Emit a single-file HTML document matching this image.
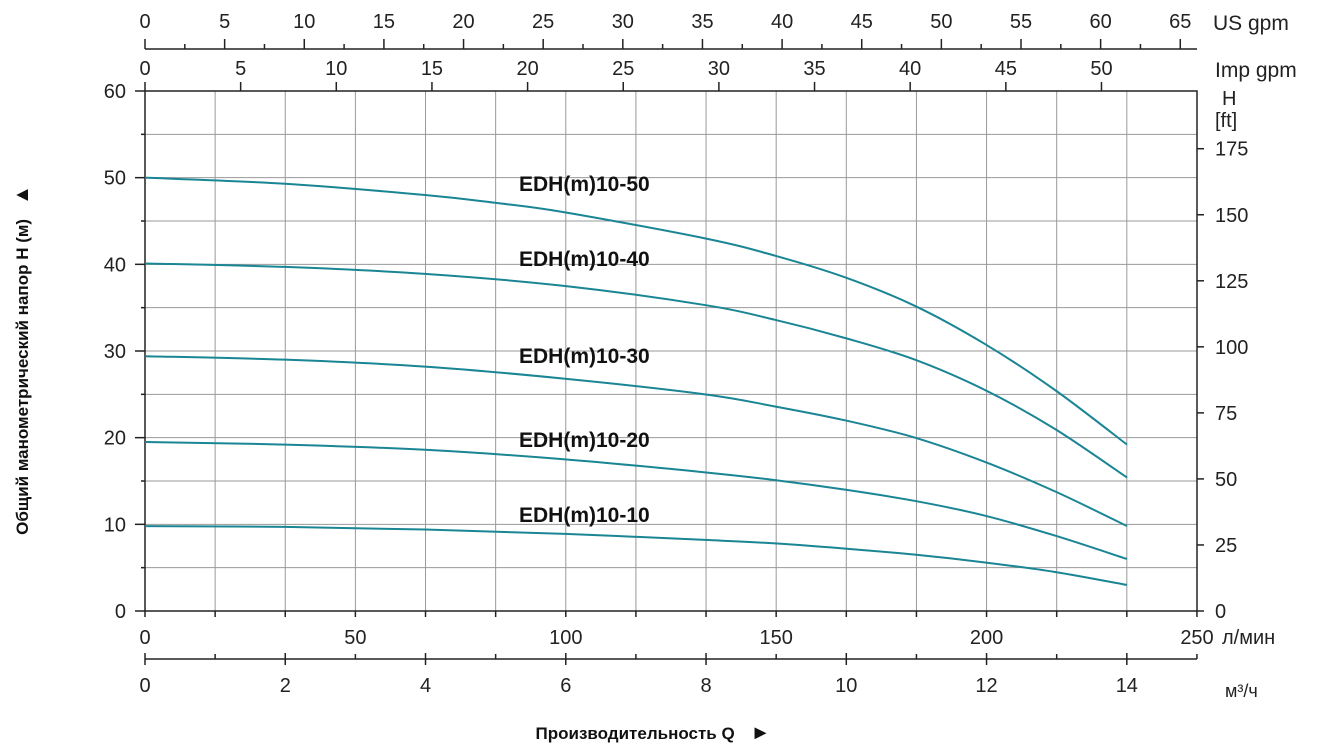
<!DOCTYPE html>
<html><head><meta charset="utf-8"><style>
html,body{margin:0;padding:0;background:#fff}
svg{display:block;font-family:"Liberation Sans",Arial,sans-serif}
</style></head><body>
<svg id="s" width="1330" height="755" viewBox="0 0 1330 755" xmlns="http://www.w3.org/2000/svg"></svg>
<script>
const s=document.getElementById('s');let h='';
const X0=145,X1=1197,Y0=611,Y60=91,py=(Y0-Y60)/60;
const Y=m=>Y0-m*py;
for(let i=1;i<=15;i++){let x=X0+i*70.13;if(x>1196)break;h+=`<line x1="${x}" y1="${Y60}" x2="${x}" y2="${Y0}" stroke="#999" stroke-width="1"/>`;}
for(let m=5;m<=60;m+=5){h+=`<line x1="${X0}" y1="${Y(m)}" x2="${X1}" y2="${Y(m)}" stroke="#999" stroke-width="1"/>`;
 h+=`<line x1="${X0-(m%10?4:10)}" y1="${Y(m)}" x2="${X0}" y2="${Y(m)}" stroke="#222" stroke-width="1.5"/>`;}
h+=`<line x1="${X0-10}" y1="${Y0}" x2="${X0}" y2="${Y0}" stroke="#222" stroke-width="1.5"/>`;
h+=`<rect x="${X0}" y="${Y60}" width="${X1-X0}" height="${Y0-Y60}" fill="none" stroke="#222" stroke-width="1.5"/>`;
for(let m=0;m<=60;m+=10)h+=`<text x="126" y="${Y(m)+7}" font-size="20" text-anchor="end" fill="#222">${m}</text>`;
for(let f=0;f<=175;f+=25){let y=Y(f*0.3048);h+=`<line x1="${X1}" y1="${y}" x2="${X1+7}" y2="${y}" stroke="#222" stroke-width="1.5"/><text x="1215" y="${y+7}" font-size="20" fill="#222">${f}</text>`;}
h+=`<text x="1222" y="105" font-size="20" fill="#222">H</text><text x="1215" y="127" font-size="20" fill="#222">[ft]</text>`;
const pl=(X1-X0)/250;
for(let i=0;i<=15;i++){let x=X0+i*70.13;if(x>1197)break;h+=`<line x1="${x}" y1="${Y0}" x2="${x}" y2="${Y0+6}" stroke="#222" stroke-width="1.5"/>`;}
for(let q=0;q<=250;q+=50){let x=X0+q*pl;h+=`<text x="${x}" y="644" font-size="20" text-anchor="middle" fill="#222">${q}</text>`;}
h+=`<text x="1222" y="644" font-size="20" fill="#222">л/мин</text>`;
h+=`<line x1="${X0}" y1="659" x2="${X1}" y2="659" stroke="#222" stroke-width="1.5"/>`;
for(let i=0;i<=15;i++){let x=X0+i*70.13;if(x>1197)break;h+=`<line x1="${x}" y1="${i%2?654:653}" x2="${x}" y2="${i%2?659:665}" stroke="#222" stroke-width="1.5"/>`;if(i%2==0)h+=`<text x="${x}" y="692" font-size="20" text-anchor="middle" fill="#222">${i}</text>`;}
h+=`<text x="1225" y="697" font-size="18" fill="#222">м³/ч</text>`;
h+=`<line x1="${X0}" y1="49" x2="${X1}" y2="49" stroke="#222" stroke-width="1.5"/>`;
const us=pl*3.785;
for(let g=0;g<=65;g+=2.5){let x=X0+g*us;h+=`<line x1="${x}" y1="49" x2="${x}" y2="${g%5?44:39}" stroke="#222" stroke-width="1.5"/>`;if(g%5==0)h+=`<text x="${x}" y="28" font-size="20" text-anchor="middle" fill="#222">${g}</text>`;}
h+=`<text x="1213" y="30" font-size="21" fill="#222">US gpm</text>`;
const ig=pl*4.546;
for(let g=0;g<=50;g+=5){let x=X0+g*ig;h+=`<line x1="${x}" y1="91" x2="${x}" y2="82" stroke="#222" stroke-width="1.5"/><text x="${x}" y="75" font-size="20" text-anchor="middle" fill="#222">${g}</text>`;}
h+=`<text x="1215" y="77" font-size="21" fill="#222">Imp gpm</text>`;
const C=[
[[145,50],[285,49.3],[425,48],[495,47.1],[565,46],[705,43],[775,41],[845,38.5],[915,35.2],[985,30.8],[1055,25.5],[1127,19.2]],
[[145,40.1],[285,39.7],[425,38.9],[565,37.5],[705,35.3],[775,33.6],[845,31.5],[915,29],[985,25.5],[1055,21],[1127,15.4]],
[[145,29.4],[285,29],[425,28.2],[565,26.8],[705,25],[775,23.6],[845,22],[915,20],[985,17.2],[1055,13.8],[1127,9.8]],
[[145,19.5],[285,19.2],[425,18.6],[565,17.5],[705,16],[775,15.1],[845,14],[915,12.7],[985,11],[1055,8.7],[1127,6]],
[[145,9.8],[285,9.7],[425,9.4],[565,8.9],[705,8.2],[775,7.8],[845,7.2],[915,6.5],[985,5.6],[1055,4.5],[1127,3]]];
C.forEach(c=>{let p=c.map(a=>[a[0],Y(a[1])]);let d='M'+p[0];
for(let i=0;i<p.length-1;i++){let p0=p[Math.max(i-1,0)],p1=p[i],p2=p[i+1],p3=p[Math.min(i+2,p.length-1)];
d+=` C${p1[0]+(p2[0]-p0[0])/6},${p1[1]+(p2[1]-p0[1])/6} ${p2[0]-(p3[0]-p1[0])/6},${p2[1]-(p3[1]-p1[1])/6} ${p2[0]},${p2[1]}`;}
h+=`<path d="${d}" fill="none" stroke="#1a8594" stroke-width="2"/>`;});
[[50,191],[40,266],[30,363],[20,447],[10,522]].forEach(a=>h+=`<text x="519" y="${a[1]}" font-size="21" font-weight="bold" fill="#111">EDH(m)10-${a[0]}</text>`);
h+=`<text transform="translate(28,360) rotate(-90)" font-size="17" font-weight="bold" text-anchor="middle" fill="#111">Общий манометрический напор H (м)<tspan dx="14" font-size="20">▲</tspan></text>`;
h+=`<text x="653" y="739" font-size="17" font-weight="bold" text-anchor="middle" fill="#111">Производительность Q<tspan dx="16" font-size="20">►</tspan></text>`;
s.innerHTML=h;
</script>
</body></html>
